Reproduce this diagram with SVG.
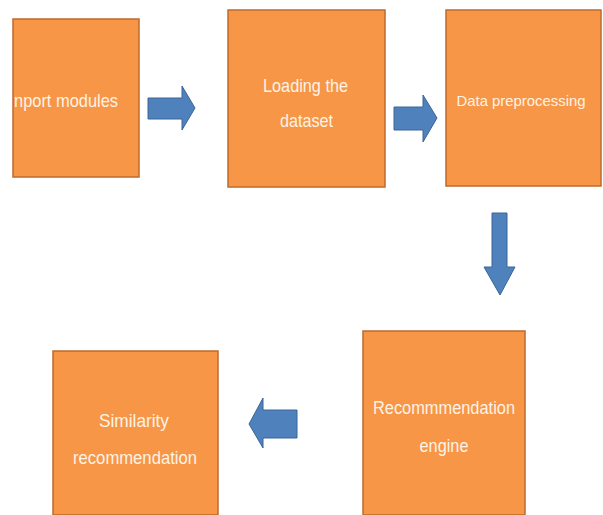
<svg xmlns="http://www.w3.org/2000/svg" width="603" height="515" viewBox="0 0 603 515">
<style>
.box{fill:#F79646;stroke:#C06A2B;stroke-width:1.5}
.arr{fill:#4F81BD;stroke:#3A6596;stroke-width:1}
.t{font-family:"Liberation Sans Narrow","Liberation Sans",Arial,sans-serif;font-size:19px;fill:#FDF3E6;text-anchor:middle;dominant-baseline:central}
</style>
<rect width="603" height="515" fill="#ffffff"/>
<g id="connectors">
<polygon class="arr" points="148,98 182,98 182,86 195,108 182,130 182,119 148,119"/>
<polygon class="arr" points="394,107 423,107 423,95 437,118 423,142 423,130 394,130"/>
<polygon class="arr" points="492,213 507,213 507,267 515,267 500,295 484,267 492,267"/>
<polygon class="arr" points="297,410 263,410 263,398 249,424 263,448 263,438 297,438"/>
</g>
<g id="node-import">
<rect class="box" x="13" y="19" width="126" height="158"/>
<text class="t" x="66" y="100" textLength="104" lengthAdjust="spacingAndGlyphs">nport modules</text>
</g>
<g id="node-loading">
<rect class="box" x="228" y="10" width="157" height="177"/>
<text class="t" x="305.5" y="85" textLength="85" lengthAdjust="spacingAndGlyphs">Loading the</text>
<text class="t" x="306.5" y="120" textLength="53" lengthAdjust="spacingAndGlyphs">dataset</text>
</g>
<g id="node-preprocessing">
<rect class="box" x="446" y="10" width="155" height="176"/>
<text class="t" x="521" y="100" style="font-size:15px" textLength="129" lengthAdjust="spacingAndGlyphs">Data preprocessing</text>
</g>
<g id="node-engine">
<rect class="box" x="363" y="331" width="162" height="184"/>
<text class="t" x="444" y="407" textLength="142" lengthAdjust="spacingAndGlyphs">Recommmendation</text>
<text class="t" x="444" y="445" textLength="49" lengthAdjust="spacingAndGlyphs">engine</text>
</g>
<g id="node-similarity">
<rect class="box" x="53" y="351" width="165" height="164"/>
<text class="t" x="134" y="420" textLength="70" lengthAdjust="spacingAndGlyphs">Similarity</text>
<text class="t" x="135" y="457" textLength="124" lengthAdjust="spacingAndGlyphs">recommendation</text>
</g>
</svg>
